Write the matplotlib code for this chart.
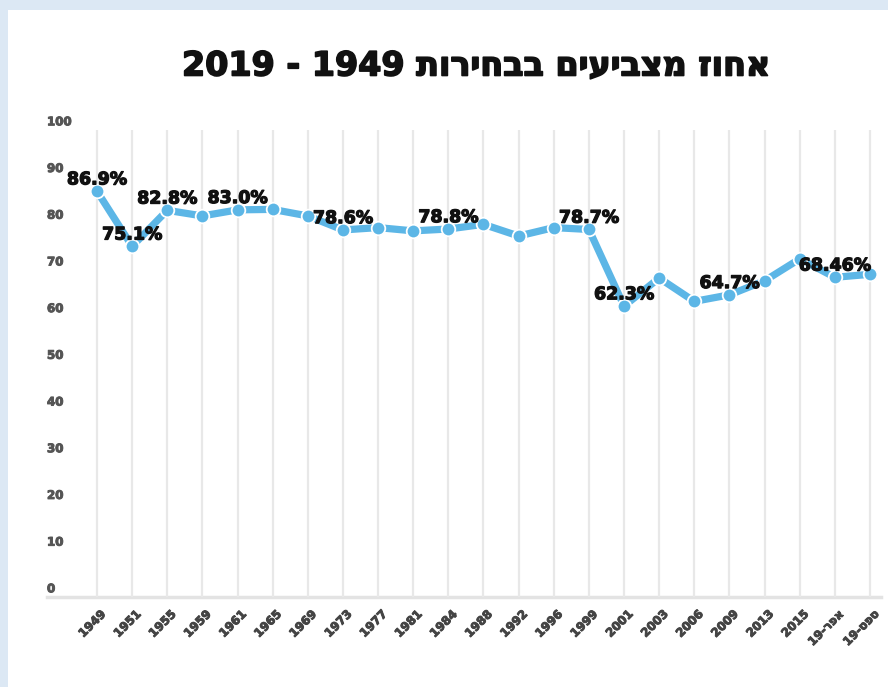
import matplotlib
matplotlib.use("Agg")
import matplotlib.pyplot as plt
import matplotlib.transforms as mtransforms
import matplotlib.patheffects as pe
from matplotlib.patches import Rectangle
import re

# ---- data ----
categories = ["1949", "1951", "1955", "1959", "1961", "1965", "1969", "1973", "1977",
              "1981", "1984", "1988", "1992", "1996", "1999", "2001", "2003", "2006",
              "2009", "2013", "2015", "אפר-19", "ספט-19"]
turnout = [86.9, 75.1, 82.8, 81.6, 82.9, 83.0, 81.6, 78.6, 79.1,
           78.4, 78.8, 79.8, 77.3, 79.1, 78.7, 62.3, 68.3, 63.3,
           64.7, 67.7, 72.4, 68.46, 69.1]
label_text = {0: "86.9%", 1: "75.1%", 2: "82.8%", 4: "83.0%", 7: "78.6%",
              10: "78.8%", 14: "78.7%", 15: "62.3%", 18: "64.7%", 21: "68.46%"}
yticks = [0, 10, 20, 30, 40, 50, 60, 70, 80, 90, 100]
title = "אחוז מצביעים בבחירות 1949 - 2019"


def visual(s):
    """Convert logical-order Hebrew text to visual order for LTR rendering."""
    if not re.search("[\u0590-\u05FF]", s):
        return s
    r = s[::-1]
    return re.sub(r"[0-9.]+", lambda m: m.group(0)[::-1], r)


W, H, DPI = 888, 687, 100
fig = plt.figure(figsize=(W / DPI, H / DPI), dpi=DPI)
fig.patch.set_facecolor("#dce8f4")
fig.patches.append(Rectangle((8 / W, 0), 1 - 8 / W, 1 - 10 / H, transform=fig.transFigure,
                             facecolor="white", edgecolor="none", zorder=-10))

ax_left, ax_right = 47, 881
ax_top, ax_bottom = 130, 597
ax = fig.add_axes([ax_left / W, 1 - ax_bottom / H, (ax_right - ax_left) / W,
                   (ax_bottom - ax_top) / H])
ax.set_facecolor("none")
ax.set_zorder(5)

x = list(range(len(categories)))
sp = 35.14
ax.set_xlim(-(97 - ax_left) / sp, (len(categories) - 1) + (ax_right - 870) / sp)
ax.set_ylim(0, 100)

for s in ax.spines.values():
    s.set_visible(False)
ax.axhline(0, color="#e3e3e3", lw=2.5, zorder=1, clip_on=False)
for xi in x:
    ax.axvline(xi, color="#e8e8e8", lw=1.6, zorder=1)

ax.plot(x, turnout, color="#5cb6e6", lw=5.2, marker="o", markersize=9.8,
        markerfacecolor="#5cb6e6", markeredgecolor="white", markeredgewidth=1.3,
        zorder=3, solid_capstyle="round")

fams = ["DejaVu Sans"]
for i, t in label_text.items():
    ax.annotate(t, (i, turnout[i]), xytext=(0, 2), textcoords="offset points",
                ha="center", va="bottom", fontsize=12.5, fontweight="bold",
                color="#111111", family=fams, zorder=4,
                path_effects=[pe.withStroke(linewidth=0.9, foreground="#111111")])

ax.set_xticks([])
ax.set_yticks([])
blend = mtransforms.blended_transform_factory(ax.transAxes, ax.transData)
for v in yticks:
    ax.annotate(str(v), (0, v), xycoords=blend, xytext=(0, 1.2), textcoords="offset points",
                ha="left", va="bottom", fontsize=8.5, fontweight="bold",
                color="#555555", family=fams,
                path_effects=[pe.withStroke(linewidth=0.7, foreground="#555555")])

xblend = mtransforms.blended_transform_factory(ax.transData, ax.transAxes)
for xi, c in zip(x, categories):
    ax.annotate(visual(c), (xi, 0), xycoords=xblend, xytext=(5, -11),
                textcoords="offset points", ha="right", va="center",
                rotation=45, rotation_mode="anchor", fontsize=8.5, fontweight="bold",
                color="#444444", family=fams,
                path_effects=[pe.withStroke(linewidth=0.7, foreground="#444444")])

fig.text(476 / W, 1 - 66 / H, visual(title), ha="center", va="center",
         fontsize=24, fontweight="bold", color="#111111",
         family=["Liberation Sans Narrow", "DejaVu Sans"],
         path_effects=[pe.withStroke(linewidth=1.2, foreground="#111111")])

fig.savefig("out.png", dpi=DPI)
